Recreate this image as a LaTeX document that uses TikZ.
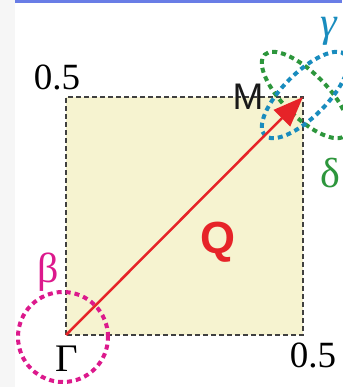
\documentclass[tikz,border=0pt]{standalone}
\usepackage{fontspec}
\setmainfont{Liberation Serif}
\newfontfamily\sans{Liberation Sans}
\usetikzlibrary{arrows.meta}
\definecolor{qred}{RGB}{230,35,40}
\definecolor{pinkish}{RGB}{220,25,140}
\definecolor{teal1}{RGB}{25,140,190}
\definecolor{green1}{RGB}{45,150,60}
\definecolor{beige}{RGB}{246,243,208}
\definecolor{barblue}{RGB}{105,125,230}
\tikzset{
  big/.style={font=\fontsize{37}{40}\selectfont},
  greek/.style={font=\fontsize{42}{46}\selectfont},
  dots/.style={line width=4pt,dash pattern=on 5pt off 4pt}
}
\begin{document}
\begin{tikzpicture}[x=1pt,y=1pt]
  \useasboundingbox (0,0) rectangle (342,387);
  % frame bits of the screenshot
  \fill[gray!7] (0,0) rectangle (15,387);
  \fill[barblue] (15,384) rectangle (342,387);

  % Brillouin zone quarter
  \coordinate (G) at (66,52);
  \coordinate (M) at (303,290);
  \fill[beige] (G) rectangle (M);
  \draw[gray!50!black,line width=1.2pt,dash pattern=on 5pt off 3pt] (G) rectangle (M);

  % pockets
  \draw[pinkish,dots] (63,50) circle (45);
  \draw[green1,dots,rotate around={-45:(305,292)}] (305,292) ellipse (57 and 22);
  \draw[teal1,dots,rotate around={45:(305,292)}] (305,292) ellipse (57 and 22);

  % nesting vector
  \draw[qred,line width=2.5pt,-{Triangle[length=30pt,width=23pt]}] (G) -- (M);

  % labels
  \node[big] (ytop) at (57,310) {0.5};
  \node[big] (xright) at (313,32) {0.5};
  \node[font=\fontsize{39}{42}\selectfont] (gam) at (67,28) {Γ};
  \node[greek,pinkish] (beta) at (48,115) {β};
  \node[gray!20!black,font=\sans\fontsize{37}{40}\selectfont] (mlab) at (248,290) {M};
  \node[qred,font=\sans\bfseries\fontsize{45}{48}\selectfont] (qlab) at (218,145) {Q};
  \node[greek,teal1] (gamma) at (329,356) {\itshape γ};
  \node[greek,green1] (delta) at (330,214) {δ};
\end{tikzpicture}
\end{document}
